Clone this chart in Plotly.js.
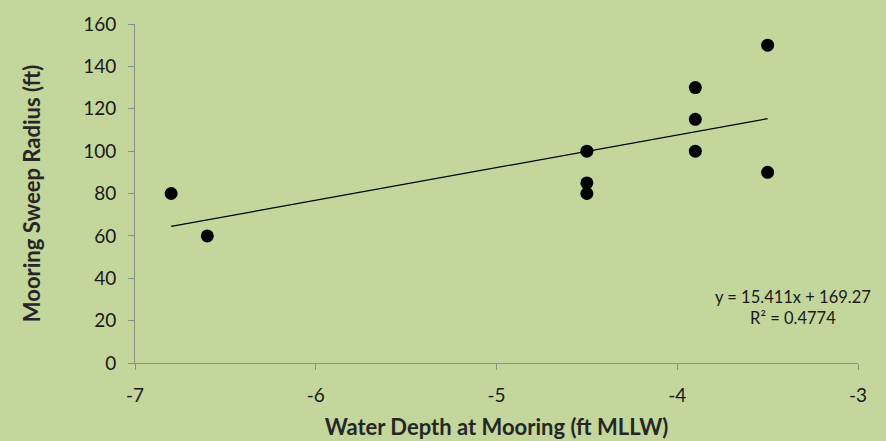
<!DOCTYPE html>
<html><head><meta charset="utf-8">
<script src="https://cdn.plot.ly/plotly-3.0.1.min.js"></script>
<style>html,body{margin:0;padding:0;background:#c3d69b;}</style>
</head><body>
<div id="chart" style="width:886px;height:441px;"></div>
<script>
const depth = [-6.8, -6.6, -4.5, -4.5, -4.5, -3.9, -3.9, -3.9, -3.5, -3.5];
const radius = [80, 60, 100, 85, 80, 130, 115, 100, 150, 90];
const slope = 15.411, intercept = 169.27;
const trendX = [-6.8, -3.5];
const trendY = trendX.map(x => slope * x + intercept);
const xTickVals = [-7, -6, -5, -4, -3];
const xTickText = ['-7', '-6', '-5', '-4', '-3'];
const eqText = 'y = 15.411x + 169.27<br>R² = 0.4774';

const data = [
  {x: depth, y: radius, mode: 'markers', type: 'scatter',
   marker: {color: '#000', size: 13}},
  {x: trendX, y: trendY, mode: 'lines', type: 'scatter',
   line: {color: '#000', width: 1.3}}
];
const layout = {
  width: 886, height: 441,
  paper_bgcolor: '#c3d69b', plot_bgcolor: '#c3d69b',
  showlegend: false,
  margin: {l: 135, r: 28, t: 24, b: 78},
  font: {family: 'Lato, "Open Sans", sans-serif', color: '#1a1a1a'},
  xaxis: {range: [-7, -3], tickvals: xTickVals, ticktext: xTickText, showgrid: false, zeroline: false,
    showline: true, linecolor: '#8a8f80', linewidth: 1,
    ticks: 'outside', ticklen: 6, tickcolor: '#8a8f80', ticklabelstandoff: 9,
    tickfont: {size: 19, color: '#1a1a1a'},
    title: {text: '<b>Water Depth at Mooring (ft MLLW)</b>', font: {size: 22, color: '#262626'}, standoff: 14}},
  yaxis: {range: [0, 160], dtick: 20, showgrid: false, zeroline: false,
    showline: true, linecolor: '#8a8f80', linewidth: 1,
    ticks: 'outside', ticklen: 6, tickcolor: '#8a8f80', ticklabelstandoff: 8,
    tickfont: {size: 19, color: '#1a1a1a'},
    title: {text: '<b>Mooring Sweep Radius (ft)</b>', font: {size: 22, color: '#262626'}, standoff: 36}},
  annotations: [{xref: 'paper', yref: 'paper', x: 0.91, y: 0.165, xanchor: 'center', yanchor: 'middle',
    text: eqText, showarrow: false, align: 'center', font: {size: 16.5, color: '#1a1a1a'}}]
};
Plotly.newPlot('chart', data, layout, {displayModeBar: false});
</script>
</body></html>
